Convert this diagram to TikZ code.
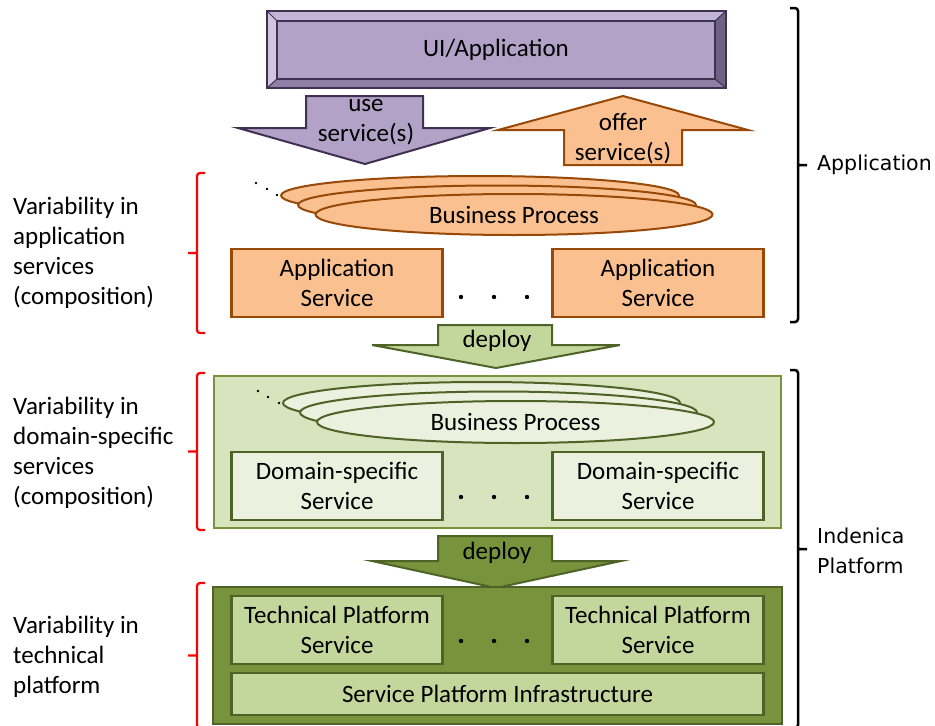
\documentclass[tikz,border=0pt]{standalone}
\usepackage{fontspec}
\setmainfont{Carlito}
\newfontfamily\sidefont{DejaVu Sans}
\usetikzlibrary{positioning,calc,shapes.geometric}

\definecolor{uiFill}{HTML}{B3A2C7}
\definecolor{uiTop}{HTML}{C2B5D6}
\definecolor{uiLeft}{HTML}{D0C7DE}
\definecolor{uiRight}{HTML}{6F6285}
\definecolor{uiBottom}{HTML}{8F7EA6}
\definecolor{uiLine}{HTML}{403152}
\definecolor{appFill}{HTML}{FAC090}
\definecolor{appLine}{HTML}{984807}
\definecolor{domFill}{HTML}{D7E4BD}
\definecolor{domLight}{HTML}{EBF1DE}
\definecolor{techFill}{HTML}{77933C}
\definecolor{techBox}{HTML}{C3D69B}
\definecolor{greenLine}{HTML}{4F6228}

\begin{document}
\begin{tikzpicture}[x=1pt,y=-1pt,
  txt/.style={font=\fontsize{25}{30}\selectfont,align=center,inner sep=0pt},
  svc/.style={txt,draw,line width=2.5pt,minimum width=211,minimum height=68},
  proc/.style={ellipse,draw,line width=2pt,minimum width=397,minimum height=41,inner sep=0pt,font=\fontsize{25}{30}\selectfont},
  blockarrow/.style={line width=2pt,line join=miter},
  redbrace/.style={draw=red,line width=2.2pt,rounded corners=3},
  blackbrace/.style={draw=black,line width=2.5pt,rounded corners=3},
  sidelabel/.style={anchor=west,align=left,inner sep=0pt,font=\fontsize{25}{30}\selectfont}]
  \useasboundingbox (0,0) rectangle (935,726);

  % UI / Application bevel
  \fill[uiFill] (267,11) rectangle (726,88);
  \fill[uiTop] (267,11) -- (726,11) -- (715,21) -- (277,21) -- cycle;
  \fill[uiLeft] (267,11) -- (277,21) -- (277,79) -- (267,88) -- cycle;
  \fill[uiRight] (726,11) -- (715,21) -- (715,79) -- (726,88) -- cycle;
  \fill[uiBottom] (267,88) -- (277,79) -- (715,79) -- (726,88) -- cycle;
  \draw[uiLine,line width=1pt] (267,11) -- (277,21) (726,11) -- (715,21)
    (267,88) -- (277,79) (726,88) -- (715,79);
  \draw[uiLine,line width=2.5pt] (267,11) rectangle (726,88);
  \node[txt,draw=uiLine,line width=2.5pt,minimum width=438,minimum height=58] (ui) at (496,50) {UI/Application};

  % use / offer service(s)
  \draw[blockarrow,draw=uiLine,fill=uiFill] (306,96) -- (423,96) -- (423,128) -- (490,128)
    -- (365,164) -- (238,128) -- (306,128) -- cycle;
  \node[txt] (use) at (366,122) {use\\service(s)};
  \draw[blockarrow,draw=appLine,fill=appFill] (564,165) -- (564,130) -- (498,130)
    -- (623,96) -- (748,130) -- (682,130) -- (682,165) -- cycle;
  \node[txt] (offer) at (623,139) {offer\\service(s)};

  % application services
  \foreach \dx/\dy in {-34/-19,-17/-9.5}
    \draw[appLine,line width=2pt,fill=appFill] (514+\dx,214.5+\dy) ellipse [x radius=199, y radius=19.5];
  \node[proc,draw=appLine,fill=appFill] (bpApp) at (514,214.5) {Business Process};
  \foreach \x/\y in {256/183,267/189,277/195} \fill (\x,\y) circle (1.3);
  \node[svc,draw=appLine,fill=appFill] (appL) at (337,283) {Application\\Service};
  \node[svc,draw=appLine,fill=appFill] (appR) at (658,283) {Application\\Service};
  \foreach \x in {461,494,527} \fill (\x,297) circle (2.2);

  % deploy 1
  \draw[blockarrow,draw=greenLine,fill=techBox] (438,325) -- (552,325) -- (552,345) -- (620,345)
    -- (496,368) -- (372,345) -- (438,345) -- cycle;
  \node[txt] (deployA) at (497,341) {deploy};

  % domain-specific services
  \node[draw=techFill,line width=2pt,fill=domFill,minimum width=567,minimum height=152,inner sep=0pt] (dom) at (497,451.5) {};
  \foreach \dx/\dy in {-34/-19,-17/-9.5}
    \draw[greenLine,line width=2pt,fill=domLight] (515.5+\dx,422+\dy) ellipse [x radius=198.5, y radius=21];
  \node[proc,draw=greenLine,fill=domLight,minimum height=42] (bpDom) at (515.5,422) {Business Process};
  \foreach \x/\y in {258/391,268/397,279/403} \fill (\x,\y) circle (1.3);
  \node[svc,draw=greenLine,fill=domLight] (domL) at (337,486) {Domain-specific\\Service};
  \node[svc,draw=greenLine,fill=domLight] (domR) at (658,486) {Domain-specific\\Service};
  \foreach \x in {461,494,527} \fill (\x,497) circle (2.2);

  % deploy 2
  \draw[blockarrow,draw=greenLine,fill=techFill] (438,536) -- (552,536) -- (552,561) -- (621,561)
    -- (496,588) -- (372,561) -- (438,561) -- cycle;
  \node[txt] (deployB) at (497,553) {deploy};

  % technical platform
  \node[draw=greenLine,line width=2pt,fill=techFill,minimum width=569,minimum height=137,inner sep=0pt] (tech) at (497.5,655.5) {};
  \node[svc,draw=greenLine,fill=techBox,minimum height=68] (techL) at (337,630) {Technical Platform\\Service};
  \node[svc,draw=greenLine,fill=techBox,minimum height=68] (techR) at (658,630) {Technical Platform\\Service};
  \foreach \x in {461,494,527} \fill (\x,641) circle (2.2);
  \node[svc,draw=greenLine,fill=techBox,minimum width=532,minimum height=42] (infra) at (497.5,694) {Service Platform Infrastructure};

  % variability brackets
  \foreach \ya/\yb in {173/333,373/530,583/728}
    \draw[redbrace] (205,\ya) -- (197,\ya) -- (197,\yb) -- (205,\yb)
      (197,{(\ya+\yb)/2}) -- (188,{(\ya+\yb)/2});
  \node[sidelabel] (varApp) at (13,253) {Variability in\\application\\services\\(composition)};
  \node[sidelabel] (varDom) at (13,453) {Variability in\\domain-specific\\services\\(composition)};
  \node[sidelabel] (varTech) at (13,657) {Variability in\\technical\\platform};

  % layer brackets
  \foreach \ya/\yb in {8/322,370/728}
    \draw[blackbrace] (790,\ya) -- (798,\ya) -- (798,\yb) -- (790,\yb)
      (798,{(\ya+\yb)/2}) -- (807,{(\ya+\yb)/2});
  \node[sidelabel,font=\sidefont\fontsize{20.5}{30}\selectfont] (layApp) at (817,165) {Application};
  \node[sidelabel,font=\sidefont\fontsize{20.5}{30}\selectfont] (layPlat) at (817,551) {Indenica\\Platform};
\end{tikzpicture}
\end{document}
